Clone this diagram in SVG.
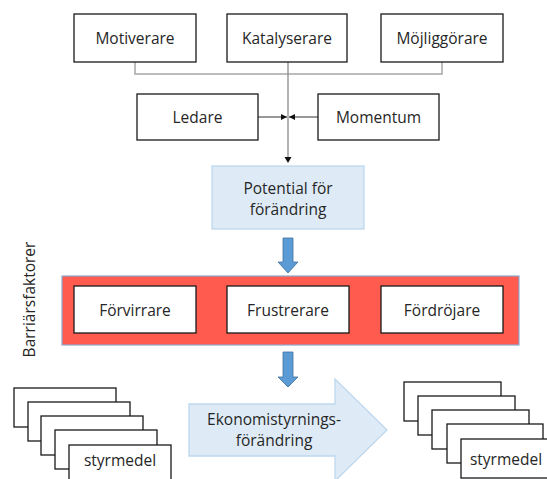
<svg xmlns="http://www.w3.org/2000/svg" width="547" height="479" viewBox="0 0 547 479">
  <style>
    .box { fill: #ffffff; stroke: #1a1a1a; stroke-width: 1.3; }
    .lbl { font-family: "Open Sans", "Liberation Sans", sans-serif; font-size: 15.5px; fill: #262626; text-anchor: middle; }
    .bracket { fill: none; stroke: #a6a6a6; stroke-width: 1.5; }
    .wire { fill: none; stroke: #333333; stroke-width: 1; }
    .stem { fill: none; stroke: #8c8c8c; stroke-width: 1.3; }
    .block { fill: #5b9bd5; stroke: #41719c; stroke-width: 0.8; }
    .soft { fill: #deebf7; stroke: #bdd7ee; stroke-width: 1.3; }
  </style>
  <defs>
    <marker id="tip" viewBox="0 0 10 10" refX="10" refY="5" markerWidth="6" markerHeight="6" orient="auto" markerUnits="userSpaceOnUse">
      <path d="M0,0 L10,5 L0,10 Z" fill="#111111"/>
    </marker>
  </defs>

  <rect width="547" height="479" fill="#ffffff"/>

  <!-- connectors -->
  <g id="connectors">
    <path class="bracket" d="M135,62 V74 H442 V62"/>
    <path class="stem" d="M288,62 V157"/>
    <polygon points="284.5,157 291.5,157 288,163" fill="#111111"/>
    <line class="wire" x1="258" y1="117" x2="287" y2="117" marker-end="url(#tip)"/>
    <line class="wire" x1="318" y1="117" x2="289" y2="117" marker-end="url(#tip)"/>
    <polygon class="block" points="283,238 293,238 293,262 298,262 288,273 278,262 283,262"/>
    <polygon class="block" points="283,352 293,352 293,377 298,377 288,387 278,377 283,377"/>
  </g>

  <g id="motiverare">
    <rect class="box" x="74" y="14" width="122" height="48"/>
    <text class="lbl" x="135" y="44">Motiverare</text>
  </g>
  <g id="katalyserare">
    <rect class="box" x="227" y="14" width="120" height="48"/>
    <text class="lbl" x="287" y="44">Katalyserare</text>
  </g>
  <g id="mojliggorare">
    <rect class="box" x="381" y="14" width="122" height="48"/>
    <text class="lbl" x="442" y="44">Möjliggörare</text>
  </g>
  <g id="ledare">
    <rect class="box" x="137" y="94" width="121" height="46"/>
    <text class="lbl" x="197.5" y="123">Ledare</text>
  </g>
  <g id="momentum">
    <rect class="box" x="318" y="94" width="121" height="46"/>
    <text class="lbl" x="378.5" y="123">Momentum</text>
  </g>
  <g id="potential">
    <rect class="soft" x="212" y="166" width="152" height="63"/>
    <text class="lbl" x="288" y="194">Potential för</text>
    <text class="lbl" x="288" y="215">förändring</text>
  </g>

  <g id="barriarer">
    <rect x="62" y="276" width="457" height="69" fill="#ff5b4f" stroke="#8ea9d0" stroke-width="1.2"/>
    <text class="lbl" transform="translate(35,299.5) rotate(-90)" x="0" y="0">Barriärsfaktorer</text>
  </g>
  <g id="forvirrare">
    <rect class="box" x="74" y="286" width="122" height="47"/>
    <text class="lbl" x="135" y="315.5">Förvirrare</text>
  </g>
  <g id="frustrerare">
    <rect class="box" x="227" y="286" width="122" height="47"/>
    <text class="lbl" x="288" y="315.5">Frustrerare</text>
  </g>
  <g id="fordrojare">
    <rect class="box" x="381" y="286" width="122" height="47"/>
    <text class="lbl" x="442" y="315.5">Fördröjare</text>
  </g>

  <g id="styrmedel-fore">
    <rect class="box" x="14" y="388" width="102" height="39"/>
    <rect class="box" x="28" y="402" width="102" height="39"/>
    <rect class="box" x="41" y="416" width="102" height="39"/>
    <rect class="box" x="55" y="430" width="102" height="39"/>
    <rect class="box" x="69" y="445" width="102" height="39"/>
    <text class="lbl" x="120" y="466">styrmedel</text>
  </g>

  <g id="ekonomistyrningsforandring">
    <polygon class="soft" points="189,404 335,404 335,379 387,430 335,481 335,456 189,456"/>
    <text class="lbl" x="274" y="425">Ekonomistyrnings-</text>
    <text class="lbl" x="274" y="446">förändring</text>
  </g>

  <g id="styrmedel-efter">
    <rect class="box" x="404" y="382" width="97" height="39"/>
    <rect class="box" x="418" y="396" width="97" height="39"/>
    <rect class="box" x="432" y="410" width="97" height="39"/>
    <rect class="box" x="447" y="424" width="96" height="39"/>
    <rect class="box" x="461" y="439" width="97" height="39"/>
    <text class="lbl" x="506" y="465">styrmedel</text>
  </g>
</svg>
